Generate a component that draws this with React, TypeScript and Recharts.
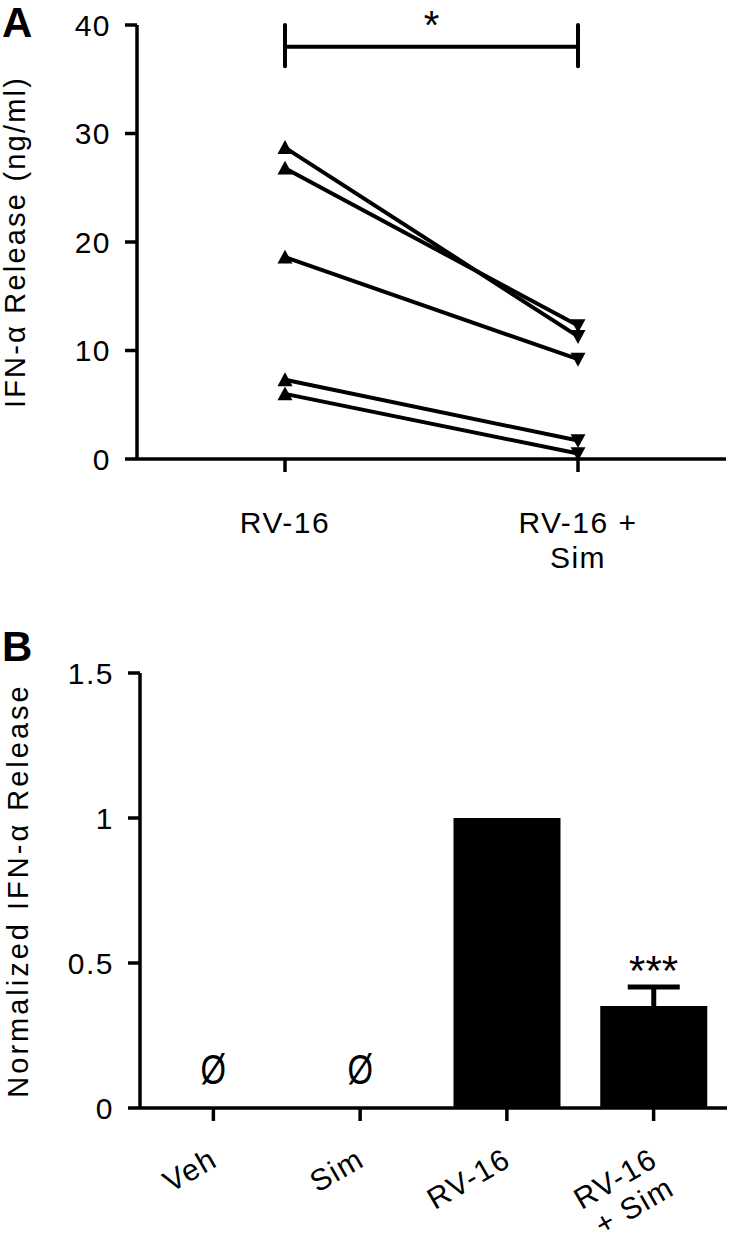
import { LineChart, Line, ComposedChart, Bar, Scatter, XAxis, YAxis, ReferenceLine, ErrorBar } from 'recharts'

const FONT = '"Liberation Sans", Arial, Helvetica, sans-serif'

// Panel A: IFN-α release per donor, paired (ng/ml)
const pairCategories = ['RV-16', 'RV-16 +\nSim']
const rv16Release = [28.7, 26.8, 18.6, 7.3, 6.0]
const rv16SimRelease = [11.3, 12.3, 9.2, 1.7, 0.5]
const releaseTicks = [0, 10, 20, 30, 40]
const sigBarLevel = 38
const sigCapRange = [36.2, 40]

// Panel B: normalized release, mean + SEM
const groups = ['Veh', 'Sim', 'RV-16', 'RV-16\n+ Sim']
const normalized = [0, 0, 1.0, 0.352]
const normalizedSem = [0, 0, 0, 0.065]
const groupMarks = ['Ø', 'Ø', '', '***']
const markLevel = [0.083, 0.083, null, 0.424]
const normTicks = [0, 0.5, 1, 1.5]

const pairData = pairCategories.map((cat, i) => {
  const row: Record<string, any> = { cat }
  const src = i === 0 ? rv16Release : rv16SimRelease
  src.forEach((v, d) => { row['d' + d] = v })
  return row
})

// SEM is symmetric; the lower half sits inside the black bar
const barData = groups.map((group, i) => ({
  group,
  value: normalized[i],
  err: normalizedSem[i],
  mark: groupMarks[i],
  markLevel: markLevel[i],
}))

const axisStroke = { stroke: '#000', strokeWidth: 3.5 }
const tickFont = { fill: '#000', fontSize: 30, fontFamily: FONT, letterSpacing: 1.5 }

function TriangleDot(props: any) {
  const { cx, cy, index } = props
  if (cx == null || cy == null) return null
  const h = 7.5
  const d = index === 0
    ? `M${cx},${cy - h} L${cx + h},${cy + h * 0.85} L${cx - h},${cy + h * 0.85} Z`
    : `M${cx},${cy + h} L${cx + h},${cy - h * 0.85} L${cx - h},${cy - h * 0.85} Z`
  return <path key={`tri-${props.dataKey}-${index}`} d={d} fill="#000" />
}

function PairTick(props: any) {
  const { x, y, payload } = props
  const lines = String(payload.value).split('\n')
  return (
    <text x={x} y={y + 61} textAnchor="middle" fill="#000" fontSize={30} fontFamily={FONT} letterSpacing={1.5}>
      {lines.map((l, i) => (
        <tspan key={i} x={x} dy={i === 0 ? 0 : 35}>{l}</tspan>
      ))}
    </text>
  )
}

function GroupTick(props: any) {
  const { x, y, payload } = props
  const lines = String(payload.value).split('\n')
  return (
    <g transform={`translate(${x + 6},${y + 44}) rotate(-30)`}>
      <text x={0} y={0} textAnchor="end" fill="#000" fontSize={30} fontFamily={FONT} letterSpacing={1.5}>
        {lines.map((l, i) => (
          <tspan key={i} x={0} dy={i === 0 ? 0 : 33}>{l}</tspan>
        ))}
      </text>
    </g>
  )
}

function AxisTitle(props: any) {
  const { viewBox, text, bx, spacing } = props
  const cy = viewBox.y + viewBox.height / 2
  return (
    <text x={bx} y={cy} transform={`rotate(-90, ${bx}, ${cy})`} textAnchor="middle" fill="#000" fontSize={29} fontFamily={FONT} letterSpacing={spacing}>
      {text}
    </text>
  )
}

function MarkShape(props: any) {
  const { cx, cy, payload } = props
  if (!payload?.mark || !Number.isFinite(cx) || !Number.isFinite(cy)) return null
  if (payload.mark === '***') {
    return <text x={cx} y={cy} textAnchor="middle" fill="#000" fontSize={42} fontFamily={FONT}>{payload.mark}</text>
  }
  // the empty-set mark is a tall, narrow glyph in the original
  return (
    <text x={cx} y={cy} textAnchor="middle" fill="#000" fontSize={42} fontFamily={FONT}
      transform={`translate(${cx},0) scale(0.78,1) translate(${-cx},0)`}>
      {payload.mark}
    </text>
  )
}

function SigStar(props: any) {
  const { viewBox } = props
  const cx = viewBox.x + viewBox.width / 2
  return <text x={cx} y={viewBox.y - 8} textAnchor="middle" fill="#000" fontSize={40} fontFamily={FONT}>*</text>
}

const panelLetter = (top: number): React.CSSProperties => ({
  position: 'absolute', left: 2, top, fontSize: 42, lineHeight: '42px', fontWeight: 'bold', fontFamily: FONT, color: '#000',
})

export default function App() {
  return (
    <div style={{ position: 'absolute', left: 0, top: 0, width: 730, height: 1240, background: '#fff' }}>
      <div style={panelLetter(2)}>A</div>
      <div style={panelLetter(626)}>B</div>

      <div style={{ position: 'absolute', left: 0, top: 0 }}>
        <LineChart width={730} height={600} data={pairData} margin={{ top: 25, right: 4, bottom: 0, left: 0 }}>
          <XAxis dataKey="cat" scale="point" padding={{ left: 148, right: 148 }} height={141} interval={0}
            axisLine={axisStroke} tickLine={axisStroke} tickSize={13} tickMargin={0} tick={<PairTick />} />
          <YAxis type="number" domain={[0, 40]} ticks={releaseTicks} width={137} interval={0}
            axisLine={axisStroke} tickLine={axisStroke} tickSize={12} tickMargin={14} tick={tickFont}
            label={{ content: (p: any) => <AxisTitle {...p} bx={25} spacing={2.2} text="IFN-α Release (ng/ml)" /> }} />
          <ReferenceLine segment={[{ x: pairCategories[0], y: sigBarLevel }, { x: pairCategories[1], y: sigBarLevel }]}
            stroke="#000" strokeWidth={4} label={{ content: (p: any) => <SigStar {...p} /> }} />
          <ReferenceLine segment={[{ x: pairCategories[0], y: sigCapRange[0] }, { x: pairCategories[0], y: sigCapRange[1] }]}
            stroke="#000" strokeWidth={4} strokeLinecap="round" />
          <ReferenceLine segment={[{ x: pairCategories[1], y: sigCapRange[0] }, { x: pairCategories[1], y: sigCapRange[1] }]}
            stroke="#000" strokeWidth={4} strokeLinecap="round" />
          {rv16Release.map((_, d) => (
            <Line key={d} dataKey={'d' + d} stroke="#000" strokeWidth={4} isAnimationActive={false}
              dot={(p: any) => <TriangleDot {...p} key={`dot-${d}-${p.index}`} />} activeDot={false} />
          ))}
        </LineChart>
      </div>

      <div style={{ position: 'absolute', left: 0, top: 600 }}>
        <ComposedChart width={730} height={640} data={barData} margin={{ top: 73, right: 3, bottom: 0, left: 0 }}>
          <XAxis dataKey="group" height={132} interval={0}
            axisLine={axisStroke} tickLine={axisStroke} tickSize={13} tickMargin={0} tick={<GroupTick />} />
          <YAxis type="number" domain={[0, 1.5]} ticks={normTicks} width={140} interval={0}
            axisLine={axisStroke} tickLine={axisStroke} tickSize={12} tickMargin={14} tick={tickFont}
            label={{ content: (p: any) => <AxisTitle {...p} bx={28} spacing={3} text="Normalized IFN-α Release" /> }} />
          <Bar dataKey="value" fill="#000" barSize={107} isAnimationActive={false}>
            <ErrorBar dataKey="err" direction="y" width={26} strokeWidth={5} stroke="#000" />
          </Bar>
          <Scatter dataKey="markLevel" isAnimationActive={false} shape={(p: any) => <MarkShape {...p} />} />
        </ComposedChart>
      </div>
    </div>
  )
}
